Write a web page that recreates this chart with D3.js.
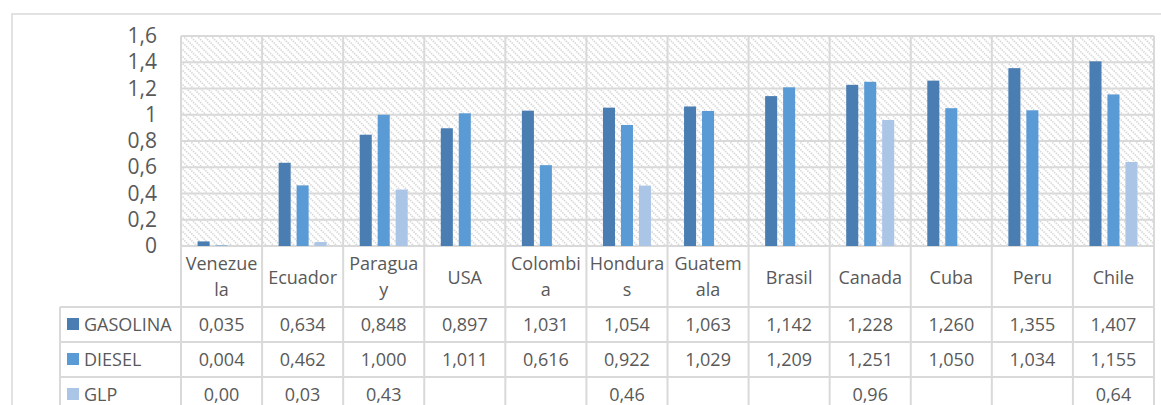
<!DOCTYPE html>
<html>
<head>
<meta charset="utf-8">
<script src="https://cdn.jsdelivr.net/npm/d3@7/dist/d3.min.js"></script>
<style>
  html, body { margin: 0; padding: 0; background: #fff; }
  svg { display: block; font-family: "Open Sans", "Liberation Sans", sans-serif; }
</style>
</head>
<body>
<svg id="chart" width="1161" height="405"></svg>
<script>
// ---- data ----
const categories = ["Venezuela", "Ecuador", "Paraguay", "USA", "Colombia", "Honduras", "Guatemala", "Brasil", "Canada", "Cuba", "Peru", "Chile"];
const categoryLabelLines = [["Venezue", "la"], ["Ecuador"], ["Paragua", "y"], ["USA"], ["Colombi", "a"], ["Hondura", "s"], ["Guatem", "ala"], ["Brasil"], ["Canada"], ["Cuba"], ["Peru"], ["Chile"]];
const seriesNames = ["GASOLINA", "DIESEL", "GLP"];
const gasolina = [0.035, 0.634, 0.848, 0.897, 1.031, 1.054, 1.063, 1.142, 1.228, 1.260, 1.355, 1.407];
const diesel   = [0.004, 0.462, 1.000, 1.011, 0.616, 0.922, 1.029, 1.209, 1.251, 1.050, 1.034, 1.155];
const glp      = [0.00, 0.03, 0.43, null, null, 0.46, null, null, 0.96, null, null, 0.64];
const seriesDecimals = [3, 3, 2];
const yTicks = [0, 0.2, 0.4, 0.6, 0.8, 1, 1.2, 1.4, 1.6];

const seriesValues = [gasolina, diesel, glp];
const colors = ["#4a7db1", "#5b9bd5", "#abc5e6"];
const gridColor = "#d9d9d9";
const textColor = "#595959";

const locale = d3.formatLocale({ decimal: ",", thousands: ".", grouping: [3], currency: ["", ""] });

const svg = d3.select("#chart");

// hatch pattern
const defs = svg.append("defs");
const pat = defs.append("pattern")
  .attr("id", "hatch").attr("patternUnits", "userSpaceOnUse")
  .attr("width", 7).attr("height", 7);
pat.append("rect").attr("width", 7).attr("height", 7).attr("fill", "#fff");
pat.append("path")
  .attr("d", "M-1,-1 L8,8 M-1,6 L1,8 M6,-1 L8,1")
  .attr("stroke", "#d8d8d8").attr("stroke-width", 1.7).attr("stroke-dasharray", "1.4,1");

const plot = { left: 181, right: 1154, top: 36, bottom: 246 };
const tableRows = [246, 307, 342, 377, 405];
const legendLeft = 60;

const x = d3.scaleBand().domain(categories).range([plot.left, plot.right]).padding(0);
const y = d3.scaleLinear().domain([0, 1.6]).range([plot.bottom, plot.top]);
const x1 = d3.scaleBand().domain(seriesNames).range([-24, 24]).paddingInner(0.33);

// outer chart border
svg.append("path")
  .attr("d", `M12,406 L12,14 L1162,14`)
  .attr("fill", "none").attr("stroke", gridColor).attr("stroke-width", 1.5);

// plot background
svg.append("rect")
  .attr("x", plot.left).attr("y", plot.top)
  .attr("width", plot.right - plot.left).attr("height", plot.bottom - plot.top)
  .attr("fill", "url(#hatch)");

// horizontal gridlines
svg.append("g").selectAll("line").data(yTicks).join("line")
  .attr("x1", plot.left).attr("x2", plot.right)
  .attr("y1", d => y(d)).attr("y2", d => y(d))
  .attr("stroke", gridColor).attr("stroke-width", 2);

// vertical lines (category boundaries through plot and table)
const bounds = categories.map(c => x(c)).concat([plot.right]);
svg.append("g").selectAll("line").data(bounds).join("line")
  .attr("x1", d => d).attr("x2", d => d)
  .attr("y1", plot.top).attr("y2", 406)
  .attr("stroke", gridColor).attr("stroke-width", 2);

// table horizontal lines (legend rows)
svg.append("g").selectAll("line").data(tableRows.slice(1, 4)).join("line")
  .attr("x1", legendLeft).attr("x2", plot.right)
  .attr("y1", d => d).attr("y2", d => d)
  .attr("stroke", gridColor).attr("stroke-width", 2);
svg.append("line")
  .attr("x1", legendLeft).attr("x2", legendLeft)
  .attr("y1", tableRows[1]).attr("y2", 406)
  .attr("stroke", gridColor).attr("stroke-width", 2);

// bars
const barData = [];
categories.forEach((c, i) => {
  seriesNames.forEach((s, j) => {
    const v = seriesValues[j][i];
    if (v !== null) barData.push({ c, s, v, j });
  });
});
svg.append("g").selectAll("rect").data(barData).join("rect")
  .attr("x", d => x(d.c) + x.bandwidth() / 2 + x1(d.s))
  .attr("width", x1.bandwidth())
  .attr("y", d => y(d.v))
  .attr("height", d => y(0) - y(d.v))
  .attr("fill", d => colors[d.j]);

// y axis
const yAxis = d3.axisLeft(y).tickValues(yTicks).tickSize(0).tickPadding(24)
  .tickFormat(locale.format("~g"));
const yg = svg.append("g").attr("transform", `translate(${plot.left},0)`).call(yAxis);
yg.select(".domain").remove();
yg.selectAll("text")
  .attr("font-family", "'Open Sans', sans-serif")
  .attr("font-size", 21).attr("fill", textColor);

// category labels
const catG = svg.append("g");
categories.forEach((c, i) => {
  const lines = categoryLabelLines[i];
  const cx = x(c) + x.bandwidth() / 2;
  const baseY = lines.length === 1 ? 284 : 270;
  lines.forEach((ln, k) => {
    catG.append("text")
      .attr("x", cx).attr("y", baseY + k * 26)
      .attr("text-anchor", "middle")
      .attr("font-size", 18).attr("fill", textColor)
      .text(ln);
  });
});

// table rows
const rowG = svg.append("g");
seriesNames.forEach((s, j) => {
  const top = tableRows[j + 1];
  const mid = top + 17.5;
  rowG.append("rect")
    .attr("x", 67).attr("y", mid - 6.5).attr("width", 12).attr("height", 12)
    .attr("fill", colors[j]);
  rowG.append("text")
    .attr("x", 84).attr("y", mid + 6)
    .attr("font-size", 18).attr("fill", textColor)
    .text(s);
  const fmt = locale.format(`.${seriesDecimals[j]}f`);
  categories.forEach((c, i) => {
    const v = seriesValues[j][i];
    if (v === null) return;
    rowG.append("text")
      .attr("x", x(c) + x.bandwidth() / 2).attr("y", mid + 6)
      .attr("text-anchor", "middle")
      .attr("font-size", 18).attr("fill", textColor)
      .text(fmt(v));
  });
});
</script>
</body>
</html>
